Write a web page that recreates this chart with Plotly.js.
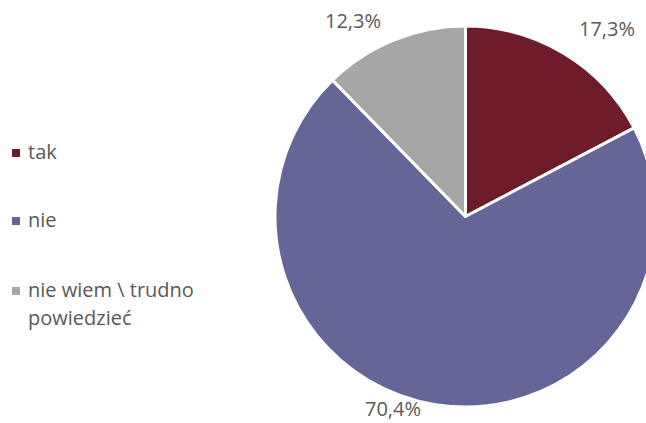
<!DOCTYPE html>
<html><head><meta charset="utf-8">
<script src="https://cdn.plot.ly/plotly-3.0.1.min.js"></script>
<style>html,body{margin:0;padding:0;overflow:hidden;background:#fff;width:646px;height:423px}#chart{width:700px;height:423px}</style>
</head><body><div id="chart"></div>
<script>
const categories = ["tak", "nie", "nie wiem \\ trudno<br>powiedzieć"];
const values = [17.3, 70.4, 12.3];
const colors = ["#6E1C2C", "#656597", "#A6A6A6"];

const W = 700, H = 423, T = 26, B = 16;
const px = x => x / W;
const py = y => (H - B - y) / (H - T - B);
const font = {family: "Open Sans, Noto Sans, sans-serif", size: 20, color: "#595959"};

const labelPos = [[607, 28], [393, 408], [353, 20]];
const legendPos = [153, 221, 291];
const lineGap = 28;

const annotations = values.map((v, i) => ({
  text: v.toFixed(1).replace('.', ',') + '%',
  x: px(labelPos[i][0]), y: py(labelPos[i][1]), xref: 'paper', yref: 'paper',
  xanchor: 'center', yanchor: 'middle', showarrow: false, font: font, borderpad: 0
}));
const shapes = [];
categories.forEach((c, i) => {
  c.split('<br>').forEach((line, j) => {
    annotations.push({
      text: line, x: px(27), y: py(legendPos[i] + j * lineGap - 2), xref: 'paper', yref: 'paper',
      xanchor: 'left', yanchor: 'middle', align: 'left', showarrow: false, font: font, borderpad: 0
    });
  });
  shapes.push({type: 'rect', xref: 'paper', yref: 'paper',
    x0: px(12), x1: px(20), y0: py(legendPos[i] + 4), y1: py(legendPos[i] - 4),
    fillcolor: colors[i], line: {width: 0}});
});

Plotly.newPlot('chart', [{
  type: 'pie', labels: categories, values: values, sort: false, direction: 'clockwise',
  rotation: 0, marker: {colors: colors, line: {color: '#ffffff', width: 3}},
  textinfo: 'none', hoverinfo: 'none', showlegend: false,
  domain: {x: [0.33, 1], y: [0, 1]}
}], {
  width: W, height: H, margin: {l: 0, r: 0, t: T, b: B},
  paper_bgcolor: '#fff', plot_bgcolor: '#fff', showlegend: false,
  annotations: annotations, shapes: shapes, font: font
}, {staticPlot: true, displayModeBar: false});
</script></body></html>
